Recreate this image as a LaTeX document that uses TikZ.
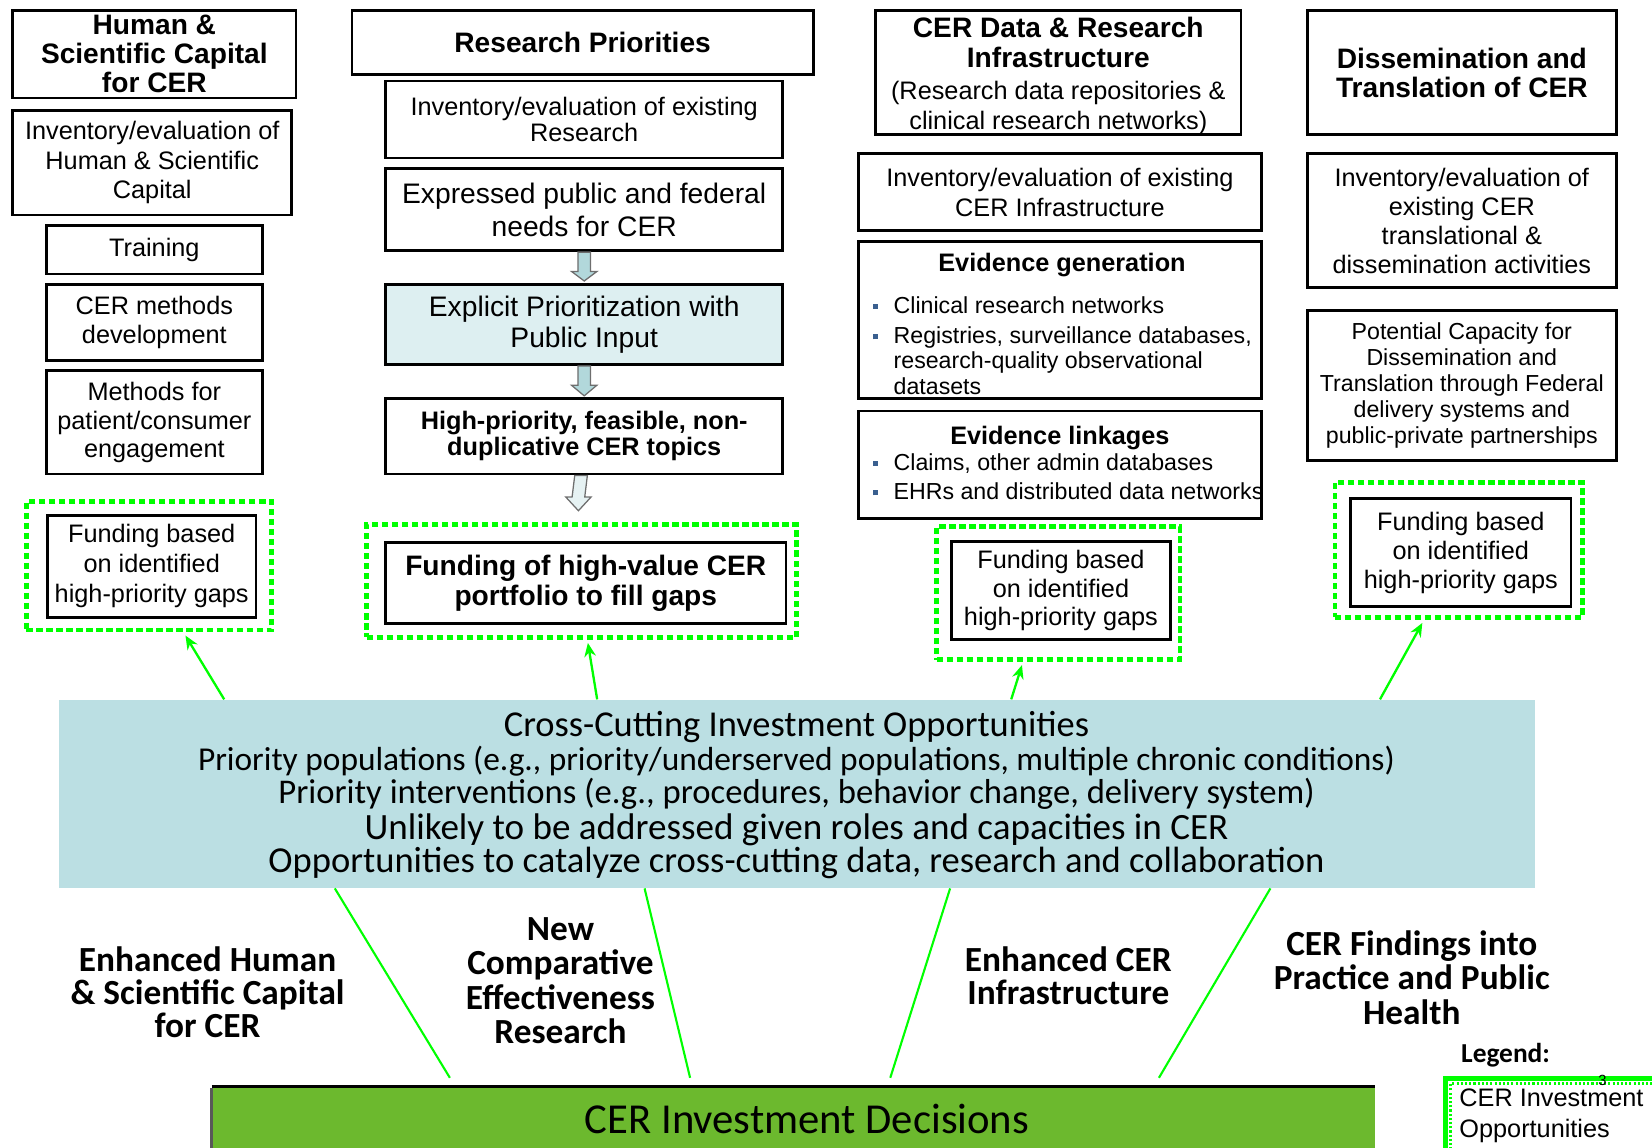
\documentclass[tikz,border=0pt]{standalone}
\usepackage{fontspec}
\setmainfont{Liberation Sans}
\newfontfamily\cfont{Carlito}
\usetikzlibrary{arrows.meta,calc}
\definecolor{gbright}{HTML}{00FF00}
\definecolor{explfill}{HTML}{DDEFF1}
\definecolor{crossfill}{HTML}{BBDFE3}
\definecolor{barfill}{HTML}{6CB92E}
\definecolor{arrfill}{HTML}{B2D8DB}
\definecolor{arrfilllight}{HTML}{E6F2F3}
\definecolor{arredge}{HTML}{6E6E6E}
\definecolor{bulc}{HTML}{3A5F8F}
\newcommand\fs[2]{\fontsize{#1}{#2}\selectfont}
\newcommand\bul{\makebox[20pt][l]{\textcolor{bulc}{\rule[4pt]{5pt}{5pt}}}}
\begin{document}
\begin{tikzpicture}[x=1pt,y=-1pt,
  box/.style={draw=black,line width=2.6pt,fill=white,inner sep=0pt,align=center},
  hdr/.style={font=\bfseries\fs{26.7}{27.5}},
  txt/.style={font=\fs{24}{28}},
  gbox/.style={draw=gbright,line width=4.5pt,dash pattern=on 6pt off 3.5pt,inner sep=0pt},
  garrow/.style={draw=gbright,line width=2.2pt,-{Stealth[length=13pt,width=11pt]}},
  glink/.style={draw=gbright,line width=2pt},
  barrow/.style={draw=arredge,line width=1.2pt,fill=arrfill},
  outcome/.style={font=\cfont\bfseries\fs{33.5}{31.5},align=center},
]
\useasboundingbox (0,0) rectangle (1568,1089);

% ---------- column 1: human & scientific capital ----------
\node[box,hdr,minimum width=269,minimum height=83] (hsc) at (146.5,51.5) {Human \&\\Scientific Capital\\for CER};
\node[box,txt,minimum width=265,minimum height=99] (inv1) at (144.5,154.5) {Inventory/evaluation of\\Human \& Scientific\\Capital};
\node[box,txt,minimum width=205,minimum height=46] (train) at (146.5,237) {Training};
\node[box,txt,minimum width=205,minimum height=72] (meth) at (146.5,306) {CER methods\\development};
\node[box,font=\fs{24}{27.5},minimum width=205,minimum height=98] (pat) at (146.5,401) {Methods for\\patient/consumer\\engagement};
\node[gbox,minimum width=233,minimum height=122] (gd1) at (141.5,537) {};
\node[box,font=\fs{24}{28.5},minimum width=198,minimum height=97] (fund1) at (144,537.5) {Funding based\\on identified\\high-priority gaps};

% ---------- column 2: research priorities ----------
\node[box,hdr,minimum width=438,minimum height=61] (rp) at (553,40.5) {Research Priorities};
\node[box,font=\fs{24}{25},minimum width=377,minimum height=73] (inv2) at (554.5,113.5) {Inventory/evaluation of existing\\Research};
\node[box,font=\fs{26.8}{31},minimum width=377,minimum height=78] (expr) at (554.5,199) {Expressed public and federal\\needs for CER};
\node[box,fill=explfill,font=\fs{26.8}{29},minimum width=377,minimum height=76] (expl) at (554.5,308) {Explicit Prioritization with\\Public Input};
\node[box,font=\bfseries\fs{24}{25},minimum width=377,minimum height=72] (hp) at (554.5,414) {High-priority, feasible, non-\\duplicative CER topics};
\node[gbox,minimum width=408,minimum height=107] (gd2) at (552,551.5) {};
\node[box,font=\bfseries\fs{26.7}{29},minimum width=380,minimum height=77] (fund2) at (556,553.5) {Funding of high-value CER\\portfolio to fill gaps};

% block arrows between the priority-setting steps
\draw[barrow] ([xshift=-6]expr.south) -- ([xshift=-6,yshift=11]expl.north) -- ([xshift=-12,yshift=11]expl.north)
  -- ([yshift=2]expl.north) -- ([xshift=12,yshift=11]expl.north) -- ([xshift=6,yshift=11]expl.north)
  -- ([xshift=6]expr.south) -- cycle;
\draw[barrow] ([xshift=-6]expl.south) -- ([xshift=-6,yshift=11]hp.north) -- ([xshift=-12,yshift=11]hp.north)
  -- ([yshift=1]hp.north) -- ([xshift=12,yshift=11]hp.north) -- ([xshift=6,yshift=11]hp.north)
  -- ([xshift=6]expl.south) -- cycle;
\draw[barrow,fill=arrfilllight] ([xshift=-9]hp.south) -- ([xshift=-9,yshift=24]gd2.north) -- ([xshift=-15,yshift=24]gd2.north)
  -- ([xshift=-3,yshift=11]gd2.north) -- ([xshift=9,yshift=24]gd2.north) -- ([xshift=3,yshift=24]gd2.north)
  -- ([xshift=3]hp.south) -- cycle;

% ---------- column 3: data & research infrastructure ----------
\node[box,minimum width=347,minimum height=118] (cerd) at (1004.5,69) {};
\node[align=center,inner sep=0pt,font=\bfseries\fs{26.7}{28}] (cerdt) at (1004.5,72)
  {CER Data \& Research\\Infrastructure\\[3pt]\mdseries\fs{24}{28}(Research data repositories \&\\\mdseries\fs{24}{28}clinical research networks)};
\node[box,txt,minimum width=382,minimum height=73] (inv3) at (1006,182.5) {Inventory/evaluation of existing\\CER Infrastructure};
\node[box,minimum width=382,minimum height=149] (evg) at (1006,303.5) {};
\node[font=\bfseries\fs{24}{24}] (evgt) at (1008,252) {Evidence generation};
\node[anchor=north west,align=left,inner sep=0pt,font=\fs{22}{24}] (evgl) at (828,281)
  {\bul Clinical research networks\\[5pt]\bul Registries, surveillance databases,\\\hspace*{20pt}research-quality observational\\\hspace*{20pt}datasets};
\node[box,minimum width=382,minimum height=102] (evl) at (1006,441) {};
\node[font=\bfseries\fs{24}{24}] (evlt) at (1006,416) {Evidence linkages};
\node[anchor=north west,align=left,inner sep=0pt,font=\fs{22}{28}] (evll) at (828,430)
  {\bul Claims, other admin databases\\\bul EHRs and distributed data networks};
\node[gbox,minimum width=231,minimum height=126] (gd3) at (1004.5,563) {};
\node[box,font=\fs{24}{27},minimum width=208,minimum height=93] (fund3) at (1007,560.5) {Funding based\\on identified\\high-priority gaps};

% ---------- column 4: dissemination & translation ----------
\node[box,font=\bfseries\fs{26.7}{28},minimum width=293,minimum height=118] (diss) at (1387.5,69) {Dissemination and\\Translation of CER};
\node[box,font=\fs{24}{27.5},minimum width=293,minimum height=127] (inv4) at (1387.5,209.5) {Inventory/evaluation of\\existing CER\\translational \&\\dissemination activities};
\node[box,font=\fs{22}{24.5},minimum width=293,minimum height=142] (pot) at (1387.5,366) {Potential Capacity for\\Dissemination and\\Translation through Federal\\delivery systems and\\public-private partnerships};
\node[gbox,minimum width=235,minimum height=128] (gd4) at (1384.5,522) {};
\node[box,font=\fs{24}{27.5},minimum width=209,minimum height=103] (fund4) at (1386.5,524.5) {Funding based\\on identified\\high-priority gaps};

% ---------- cross-cutting band ----------
\node[fill=crossfill,inner sep=0pt,minimum width=1401,minimum height=179] (cross) at (756.5,753.5) {};
\node[align=center,font=\cfont\fs{32}{31.5}] (crosstext) at (756,755)
  {\fs{34.6}{31.5}Cross-Cutting Investment Opportunities\\
   \fs{31.7}{31.5}Priority populations (e.g., priority/underserved populations, multiple chronic conditions)\\
   \fs{32.9}{31.5}Priority interventions (e.g., procedures, behavior change, delivery system)\\[3pt]
   \fs{35.2}{31.5}Unlikely to be addressed given roles and capacities in CER\\
   \fs{34.7}{31.5}Opportunities to catalyze cross-cutting data, research and collaboration};

\draw[garrow] ([xshift=157]cross.north west) -- ([xshift=34.5,yshift=-3]gd1.south);
\draw[garrow] ([xshift=511]cross.north west) -- ([xshift=6,yshift=-3]gd2.south);
\draw[garrow] ([xshift=904]cross.north west) -- ([xshift=-34.5,yshift=-3]gd3.south);
\draw[garrow] ([xshift=1254]cross.north west) -- ([xshift=-34.5,yshift=-3]gd4.south);

% ---------- investment decisions bar ----------
\node[fill=barfill,inner sep=0pt,anchor=north west,minimum width=1104,minimum height=64] (bar) at (201,1031) {};
\draw[line width=3pt] (bar.north west) -- (bar.north east);
\draw[line width=3pt,draw=black!65] ([yshift=-1.5]bar.north west) -- (bar.south west);
\node[font=\cfont\fs{40.5}{40}] (bartext) at (766,1062) {CER Investment Decisions};

\draw[glink] ([xshift=262]cross.south west) -- ([xshift=226,yshift=8]bar.north west);
\draw[glink] ([xshift=556]cross.south west) -- ([xshift=454,yshift=8]bar.north west);
\draw[glink] ([xshift=846]cross.south west) -- ([xshift=644,yshift=8]bar.north west);
\draw[glink] ([xshift=1150]cross.south west) -- ([xshift=899,yshift=8]bar.north west);

% ---------- outcome labels ----------
\node[outcome] (o1) at (197,942) {Enhanced Human\\\& Scientific Capital\\for CER};
\node[outcome,font=\cfont\bfseries\fs{33.5}{32.7}] (o2) at (532,931) {New\\Comparative\\Effectiveness\\Research};
\node[outcome] (o3) at (1014,926.5) {Enhanced CER\\Infrastructure};
\node[outcome,font=\cfont\bfseries\fs{33.5}{33}] (o4) at (1340,928) {CER Findings into\\Practice and Public\\Health};

% ---------- legend ----------
\node[font=\cfont\bfseries\fs{26}{26}] (leg) at (1429,1002) {Legend:};
\draw[gbright,line width=4.5pt] (1372,1095) -- (1372,1024) -- (1575,1024);
\draw[gbright,line width=3pt,dash pattern=on 2pt off 2pt] (1377,1095) -- (1377,1028.5) -- (1575,1028.5);
\node[anchor=west,align=left,inner sep=0pt,font=\fs{24}{29}] (legt) at (1385,1059) {CER Investment\\Opportunities};
\node[font=\fs{14}{14}] (pgno) at (1521,1025) {3};
\end{tikzpicture}
\end{document}
